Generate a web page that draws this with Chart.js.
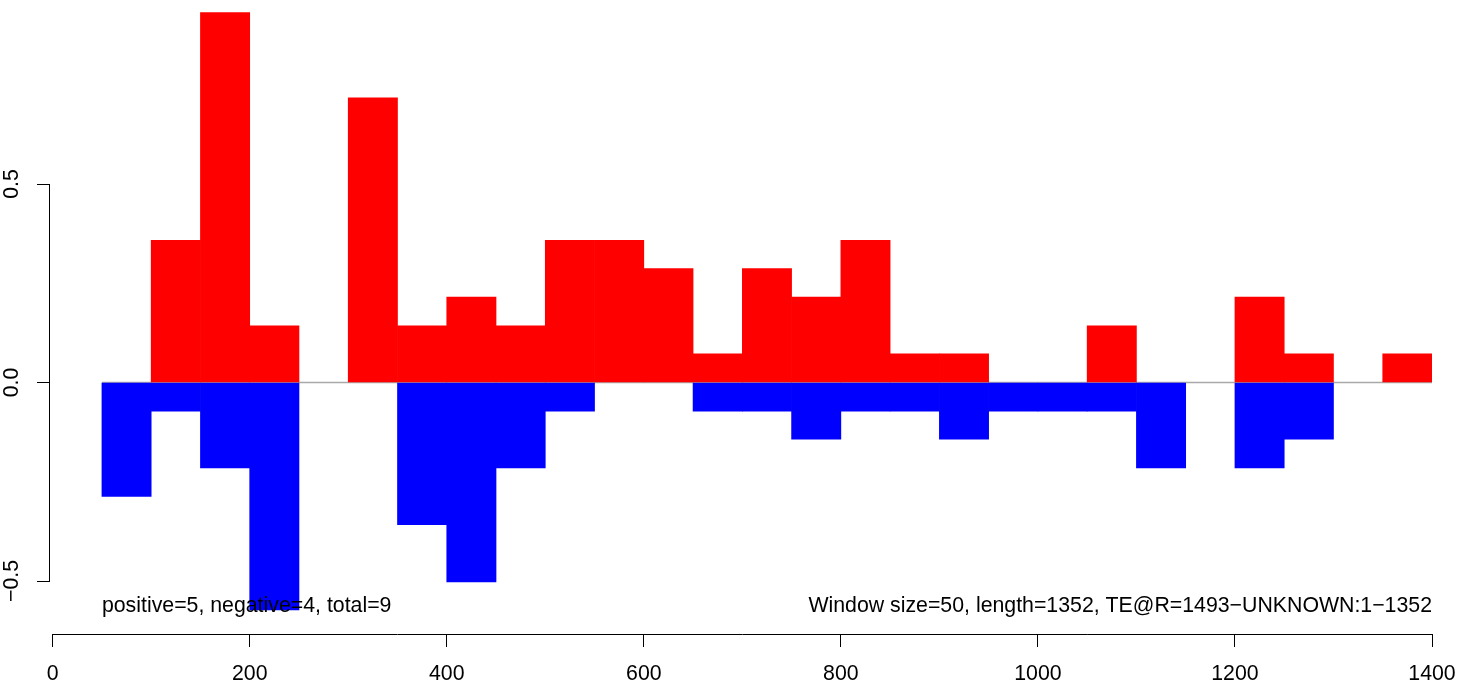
<!DOCTYPE html>
<html>
<head>
<meta charset="utf-8">
<title>TE window chart</title>
<script src="https://cdn.jsdelivr.net/npm/chart.js@4.4.1/dist/chart.umd.min.js"></script>
<style>
  html, body { margin: 0; padding: 0; background: #fff; }
  #wrap { width: 1472px; height: 685px; position: relative; }
</style>
</head>
<body>
<div id="wrap"><canvas id="chart"></canvas></div>
<script>
// window centres, window size = 50
const binCenters = [75, 125, 175, 225, 275, 325, 375, 425, 475, 525, 575, 625, 675, 725,
  775, 825, 875, 925, 975, 1025, 1075, 1125, 1175, 1225, 1275, 1325, 1375];

// red = positive strand, blue = negative strand (0 = empty window)
const positiveValues = [0, 0.358, 0.932, 0.143, 0, 0.717, 0.143, 0.215, 0.143, 0.358, 0.358, 0.287, 0.072, 0.287,
  0.215, 0.358, 0.072, 0.072, 0, 0, 0.143, 0, 0, 0.215, 0.072, 0, 0.072];
const negativeValues = [-0.287, -0.072, -0.215, -0.573, 0, 0, -0.358, -0.502, -0.215, -0.072, 0, 0, -0.072, -0.072,
  -0.143, -0.072, -0.072, -0.143, -0.072, -0.072, -0.072, -0.215, 0, -0.215, -0.143, 0, 0];

const zeroLineX = [50, 1400];
const xTicks = [0, 200, 400, 600, 800, 1000, 1200, 1400];
const yTicks = [-0.5, 0, 0.5];
const yTickLabels = ['\u22120.5', '0.0', '0.5'];

const leftNote = 'positive=5, negative=4, total=9';
const rightNote = 'Window size=50, length=1352, TE@R=1493\u2212UNKNOWN:1\u22121352';

const FONT = '"Liberation Sans", Arial, Helvetica, sans-serif';
const FONT_SIZE = 21.3;

const toPoints = (vals) => vals.map((v, i) => ({ x: binCenters[i], y: v === 0 ? null : v }));

// R-style axes: lines only between first and last tick, rotated y labels, notes
const rAxes = {
  id: 'rAxes',
  afterDraw(chart) {
    const { ctx, chartArea, scales } = chart;
    const xs = scales.x, ys = scales.y;
    ctx.save();
    ctx.strokeStyle = '#000';
    ctx.lineWidth = 1;

    const yb = Math.round(chartArea.bottom) + 0.5;
    ctx.beginPath();
    ctx.moveTo(xs.getPixelForValue(xTicks[0]), yb);
    ctx.lineTo(xs.getPixelForValue(xTicks[xTicks.length - 1]), yb);
    ctx.stroke();

    const xl = Math.round(chartArea.left) - 0.5;
    ctx.beginPath();
    ctx.moveTo(xl, ys.getPixelForValue(yTicks[0]));
    ctx.lineTo(xl, ys.getPixelForValue(yTicks[yTicks.length - 1]));
    ctx.stroke();

    ctx.fillStyle = '#000';
    ctx.font = FONT_SIZE + 'px ' + FONT;
    ctx.textAlign = 'center';
    ctx.textBaseline = 'middle';
    yTicks.forEach((v, i) => {
      ctx.save();
      ctx.translate(12, ys.getPixelForValue(v));
      ctx.rotate(-Math.PI / 2);
      ctx.fillText(yTickLabels[i], 0, 0);
      ctx.restore();
    });

    ctx.textBaseline = 'alphabetic';
    ctx.textAlign = 'left';
    ctx.fillText(leftNote, xs.getPixelForValue(50), 612);
    ctx.textAlign = 'right';
    ctx.fillText(rightNote, xs.getPixelForValue(1400), 612);
    ctx.restore();
  }
};

new Chart(document.getElementById('chart'), {
  type: 'bar',
  data: {
    datasets: [
      {
        type: 'line',
        data: zeroLineX.map(x => ({ x, y: 0 })),
        borderColor: '#a9a9a9',
        borderWidth: 1.5,
        pointRadius: 0,
        order: 3
      },
      {
        data: toPoints(positiveValues),
        backgroundColor: '#ff0000',
        borderWidth: 0,
        barPercentage: 1,
        categoryPercentage: 1,
        grouped: false,
        order: 1
      },
      {
        data: toPoints(negativeValues),
        backgroundColor: '#0000ff',
        borderWidth: 0,
        barPercentage: 1,
        categoryPercentage: 1,
        grouped: false,
        order: 2
      }
    ]
  },
  options: {
    responsive: true,
    maintainAspectRatio: false,
    animation: false,
    layout: { padding: { top: 0, right: 40, bottom: 0, left: 0 } },
    plugins: {
      legend: { display: false },
      tooltip: { enabled: false }
    },
    scales: {
      x: {
        type: 'linear',
        min: -2.7,
        max: 1400,
        offset: false,
        afterBuildTicks: (scale) => { scale.ticks = xTicks.map(v => ({ value: v })); },
        afterFit: (scale) => { scale.height = 51; },
        border: { display: false },
        grid: {
          offset: false,
          drawOnChartArea: false,
          drawTicks: true,
          tickLength: 13,
          color: '#000',
          lineWidth: 1
        },
        ticks: {
          color: '#000',
          padding: 14,
          maxRotation: 0,
          autoSkip: false,
          font: { family: FONT, size: FONT_SIZE },
          callback: (value) => String(value)
        }
      },
      y: {
        type: 'linear',
        min: -0.6335,
        max: 0.9635,
        afterBuildTicks: (scale) => { scale.ticks = yTicks.map(v => ({ value: v })); },
        afterFit: (scale) => { scale.width = 50; },
        border: { display: false },
        grid: {
          offset: false,
          drawOnChartArea: false,
          drawTicks: true,
          tickLength: 13,
          color: '#000',
          lineWidth: 1
        },
        ticks: { display: false }
      }
    }
  },
  plugins: [rAxes]
});
</script>
</body>
</html>
